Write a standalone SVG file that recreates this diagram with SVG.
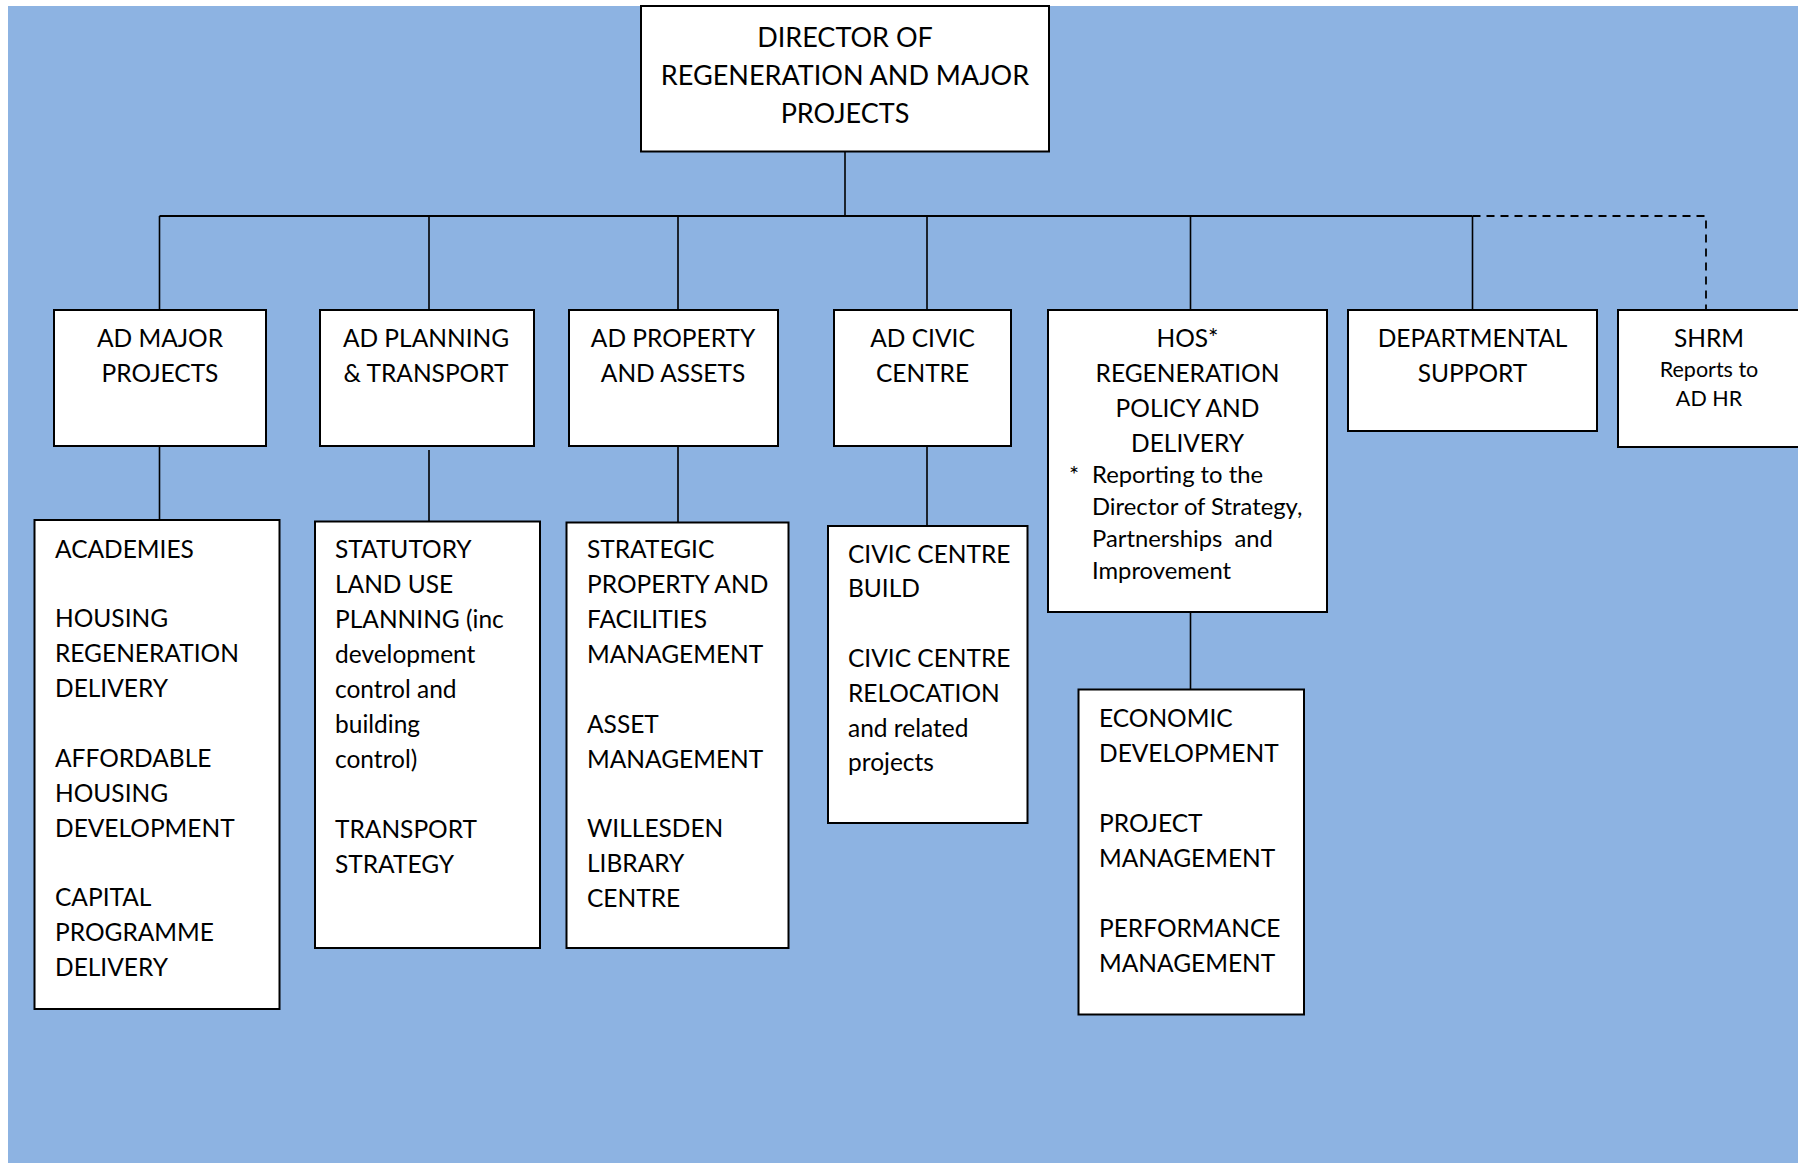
<svg xmlns="http://www.w3.org/2000/svg" width="1798" height="1163" viewBox="0 0 1798 1163">
<style>
.box{fill:#fff;stroke:#000;stroke-width:2}
.ln{fill:none;stroke:#000;stroke-width:1.6}
.bus{fill:none;stroke:#000;stroke-width:2.2}
.dash{fill:none;stroke:#000;stroke-width:1.8;stroke-dasharray:8 6}
text{font-family:Lato,"Open Sans","Liberation Sans",sans-serif;font-size:24.5px;fill:#000}
.c{text-anchor:middle}
.d{font-size:27px}
.s{font-size:23.8px}
.xs{font-size:21.5px}
</style>
<rect x="0" y="0" width="1798" height="1163" fill="#fff"/>
<rect x="8" y="6" width="1790" height="1157" fill="#8DB3E2"/>
<g id="connectors">
<path class="ln" d="M845 152V216"/>
<path class="bus" d="M159.5 216H1472.5"/>
<path class="ln" d="M159.5 216V310M429 216V310M678 216V310M927 216V310M1190.5 216V310M1472.5 216V310"/>
<path class="dash" d="M1472.5 216H1706V310"/>
<path class="ln" d="M159.5 446V520M429 450V521.5M678 446V522.5M927 446V526M1190.5 612V689.5"/>
</g>
<g id="director">
<rect class="box" x="641" y="6" width="408" height="145.5"/>
<text class="c d" x="845" y="47">DIRECTOR OF</text>
<text class="c d" x="845" y="85">REGENERATION AND MAJOR</text>
<text class="c d" x="845" y="123">PROJECTS</text>
</g>
<g id="ad-major-projects">
<rect class="box" x="54" y="310" width="212" height="136"/>
<text class="c" x="160" y="347">AD MAJOR</text>
<text class="c" x="160" y="382">PROJECTS</text>
</g>
<g id="ad-planning-transport">
<rect class="box" x="320" y="310" width="214" height="136"/>
<text class="c" x="426" y="347">AD PLANNING</text>
<text class="c" x="426" y="382">&amp; TRANSPORT</text>
</g>
<g id="ad-property-assets">
<rect class="box" x="569" y="310" width="209" height="136"/>
<text class="c" x="673" y="347">AD PROPERTY</text>
<text class="c" x="673" y="382">AND ASSETS</text>
</g>
<g id="ad-civic-centre">
<rect class="box" x="834" y="310" width="177" height="136"/>
<text class="c" x="922.5" y="347">AD CIVIC</text>
<text class="c" x="922.5" y="382">CENTRE</text>
</g>
<g id="hos-regeneration">
<rect class="box" x="1048" y="310" width="279" height="302"/>
<text class="c" x="1187.5" y="347">HOS*</text>
<text class="c" x="1187.5" y="382">REGENERATION</text>
<text class="c" x="1187.5" y="417">POLICY AND</text>
<text class="c" x="1187.5" y="452">DELIVERY</text>
<text class="s" x="1069" y="483">*</text>
<text class="s" x="1092" y="483">Reporting to the</text>
<text class="s" x="1092" y="515">Director of Strategy,</text>
<text class="s" x="1092" y="547" xml:space="preserve">Partnerships  and</text>
<text class="s" x="1092" y="579">Improvement</text>
</g>
<g id="departmental-support">
<rect class="box" x="1348" y="310" width="249" height="121"/>
<text class="c" x="1472.5" y="347">DEPARTMENTAL</text>
<text class="c" x="1472.5" y="382">SUPPORT</text>
</g>
<g id="shrm">
<rect class="box" x="1618" y="310" width="190" height="137"/>
<text class="c" x="1709" y="347">SHRM</text>
<text class="c xs" x="1709" y="377">Reports to</text>
<text class="c xs" x="1709" y="406">AD HR</text>
</g>
<g id="major-projects-teams">
<rect class="box" x="34.5" y="520" width="245" height="489"/>
<text x="55" y="558">ACADEMIES</text>
<text x="55" y="627">HOUSING</text>
<text x="55" y="662">REGENERATION</text>
<text x="55" y="697">DELIVERY</text>
<text x="55" y="767">AFFORDABLE</text>
<text x="55" y="802">HOUSING</text>
<text x="55" y="837">DEVELOPMENT</text>
<text x="55" y="906">CAPITAL</text>
<text x="55" y="941">PROGRAMME</text>
<text x="55" y="976">DELIVERY</text>
</g>
<g id="planning-teams">
<rect class="box" x="315" y="521.5" width="225" height="426.5"/>
<text x="335" y="558">STATUTORY</text>
<text x="335" y="593">LAND USE</text>
<text x="335" y="628">PLANNING (inc</text>
<text x="335" y="663">development</text>
<text x="335" y="698">control and</text>
<text x="335" y="733">building</text>
<text x="335" y="768">control)</text>
<text x="335" y="838">TRANSPORT</text>
<text x="335" y="873">STRATEGY</text>
</g>
<g id="property-teams">
<rect class="box" x="566.5" y="522.5" width="222" height="425.5"/>
<text x="587" y="558">STRATEGIC</text>
<text x="587" y="593">PROPERTY AND</text>
<text x="587" y="628">FACILITIES</text>
<text x="587" y="663">MANAGEMENT</text>
<text x="587" y="733">ASSET</text>
<text x="587" y="768">MANAGEMENT</text>
<text x="587" y="837">WILLESDEN</text>
<text x="587" y="872">LIBRARY</text>
<text x="587" y="907">CENTRE</text>
</g>
<g id="civic-centre-teams">
<rect class="box" x="828" y="526" width="199.5" height="297"/>
<text x="848" y="563">CIVIC CENTRE</text>
<text x="848" y="597">BUILD</text>
<text x="848" y="667">CIVIC CENTRE</text>
<text x="848" y="702">RELOCATION</text>
<text x="848" y="737">and related</text>
<text x="848" y="771">projects</text>
</g>
<g id="regeneration-teams">
<rect class="box" x="1078.5" y="689.5" width="225.5" height="325"/>
<text x="1099" y="727">ECONOMIC</text>
<text x="1099" y="762">DEVELOPMENT</text>
<text x="1099" y="832">PROJECT</text>
<text x="1099" y="867">MANAGEMENT</text>
<text x="1099" y="937">PERFORMANCE</text>
<text x="1099" y="972">MANAGEMENT</text>
</g>
</svg>
